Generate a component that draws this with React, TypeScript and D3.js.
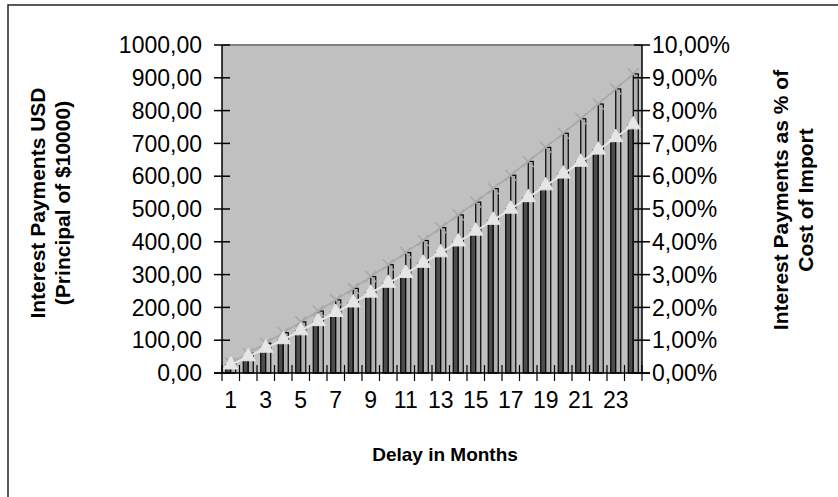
import React from "react";
import * as d3 from "d3";

const months: number[] = [1,2,3,4,5,6,7,8,9,10,11,12,13,14,15,16,17,18,19,20,21,22,23,24];
const interestUSD: number[] = [30,60,91,123,156,189,223,258,294,330,367,404,443,482,521,562,603,645,688,731,775,820,866,912];
const interestPct: number[] = [0.25,0.50,0.76,1.02,1.29,1.57,1.85,2.14,2.44,2.74,3.04,3.35,3.67,4.00,4.33,4.66,5.00,5.35,5.71,6.07,6.43,6.80,7.18,7.57];
const leftTicks: number[] = [0,100,200,300,400,500,600,700,800,900,1000];
const rightTicks: number[] = [0,1,2,3,4,5,6,7,8,9,10];
const xLabels: number[] = [1,3,5,7,9,11,13,15,17,19,21,23];

const W = 838, H = 497;
const L = 222, R = 642, T = 45, B = 373;
const FONT = "'Liberation Sans', Arial, sans-serif";

export default function App() {
  const x = d3.scaleBand<number>().domain(months).range([L, R]).padding(0);
  const bw = x.bandwidth();
  const barW = bw / 3.5;
  const yL = d3.scaleLinear().domain([0, 1000]).range([B, T]);
  const yR = d3.scaleLinear().domain([0, 10]).range([B, T]);
  const cx = (m: number) => (x(m) as number) + bw / 2;
  const fmt = (v: number) => d3.format(".2f")(v).replace(".", ",");

  const lineUSD = d3.line<number>().x((_, i) => cx(months[i])).y((d) => yL(d));
  const linePct = d3.line<number>().x((_, i) => cx(months[i])).y((d) => yR(d));
  const tri = d3.symbol().type(d3.symbolTriangle).size(90)() as string;
  const xs = d3.symbol().type(d3.symbolX).size(80)() as string;

  return (
    <svg width={W} height={H} style={{ position: "absolute", left: 0, top: 0, background: "#fff" }}>
      <rect x={8} y={5} width={W + 20} height={H + 20} fill="#fff" stroke="#222" strokeWidth={1.5} />
      <rect x={L} y={T} width={R - L} height={B - T} fill="#c0c0c0" />
      {months.map((m, i) => (
        <g key={m}>
          <rect x={cx(m) - barW} y={yR(interestPct[i])} width={barW} height={B - yR(interestPct[i])}
            fill="#4d4d4d" stroke="#000" strokeWidth={1.2} />
          <rect x={cx(m)} y={yL(interestUSD[i])} width={barW} height={B - yL(interestUSD[i])}
            fill="#b0b0b0" stroke="#000" strokeWidth={1.2} />
        </g>
      ))}
      <path d={lineUSD(interestUSD) as string} fill="none" stroke="#a8a8a8" strokeWidth={1.5} />
      {interestUSD.map((v, i) => (
        <path key={i} d={xs} transform={`translate(${cx(months[i])},${yL(v)})`} fill="none" stroke="#a8a8a8" strokeWidth={1.5} />
      ))}
      <path d={linePct(interestPct) as string} fill="none" stroke="#e6e6e6" strokeWidth={2} />
      {interestPct.map((v, i) => (
        <path key={i} d={tri} transform={`translate(${cx(months[i])},${yR(v)})`} fill="#e6e6e6" stroke="#e6e6e6" strokeWidth={1} />
      ))}
      <line x1={L} x2={R} y1={T} y2={T} stroke="#808080" strokeWidth={2} />
      <line x1={L} x2={L} y1={T} y2={B} stroke="#000" strokeWidth={1.5} />
      <line x1={R} x2={R} y1={T} y2={B} stroke="#000" strokeWidth={1.5} />
      <line x1={L - 8} x2={R + 8} y1={B} y2={B} stroke="#000" strokeWidth={1.5} />
      {leftTicks.map((t) => (
        <g key={"l" + t}>
          <line x1={L - 8} x2={L + 8} y1={yL(t)} y2={yL(t)} stroke="#000" strokeWidth={1.5} />
          <text x={202} y={yL(t)} dy="0.36em" textAnchor="end" fontFamily={FONT} fontSize={23}>{fmt(t)}</text>
        </g>
      ))}
      {rightTicks.map((t) => (
        <g key={"r" + t}>
          <line x1={R - 8} x2={R + 8} y1={yR(t)} y2={yR(t)} stroke="#000" strokeWidth={1.5} />
          <text x={652} y={yR(t)} dy="0.36em" textAnchor="start" fontFamily={FONT} fontSize={23}>{fmt(t) + "%"}</text>
        </g>
      ))}
      {months.concat([25]).map((m, i) => {
        const xx = L + i * bw;
        return <line key={"x" + m} x1={xx} x2={xx} y1={B - 8} y2={B + 8} stroke="#000" strokeWidth={1.2} />;
      })}
      {xLabels.map((m) => (
        <text key={"xl" + m} x={cx(m)} y={408} textAnchor="middle" fontFamily={FONT} fontSize={23}>{m}</text>
      ))}
      <text x={445} y={461} textAnchor="middle" fontFamily={FONT} fontSize={19} fontWeight="bold">Delay in Months</text>
      <text transform="translate(45,203) rotate(-90)" textAnchor="middle" fontFamily={FONT} fontSize={21} fontWeight="bold">Interest Payments USD</text>
      <text transform="translate(70,203) rotate(-90)" textAnchor="middle" fontFamily={FONT} fontSize={21} fontWeight="bold">(Principal of $10000)</text>
      <text transform="translate(788,200) rotate(-90)" textAnchor="middle" fontFamily={FONT} fontSize={21} fontWeight="bold">Interest Payments as % of</text>
      <text transform="translate(813,200) rotate(-90)" textAnchor="middle" fontFamily={FONT} fontSize={21} fontWeight="bold">Cost of Import</text>
    </svg>
  );
}
